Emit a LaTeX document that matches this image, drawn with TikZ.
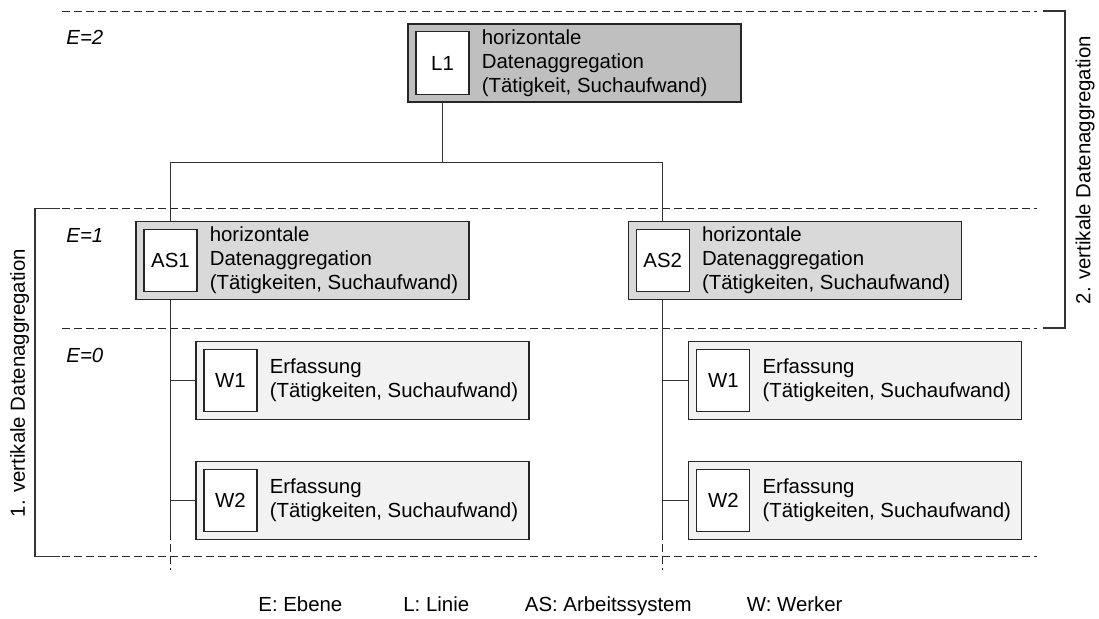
\documentclass[tikz,border=0pt]{standalone}
\usepackage{fontspec}
\setmainfont{Liberation Sans}
% one unit: outer box, white tag box, description text
\newcommand{\einheit}[5]{%
  \node[#3] (#1) at #2 {};
  \node[kennung] (#1k) at ([xshift=4pt]#1.west) {#4};
  \node[beschreibung] (#1t) at ([xshift=37pt]#1.west) {#5};
}

\begin{document}
\begin{tikzpicture}[
      x=0.5pt, y=-0.5pt,
      every node/.style={font=\fontsize{10.2pt}{12pt}\selectfont},
      einheit/.style={rectangle, draw=black!85, line width=0.6pt, inner sep=0pt, minimum width=166.5pt, minimum height=39pt},
      linie/.style={einheit, fill=black!25},
      system/.style={einheit, fill=black!15},
      werker/.style={einheit, fill=black!5, minimum height=38.8pt},
      kennung/.style={rectangle, draw=black!85, fill=white, line width=0.6pt, anchor=west, minimum width=26.5pt, minimum height=31.2pt, inner sep=0pt},
      beschreibung/.style={anchor=west, align=left, inner sep=0pt},
      ebene/.style={dash pattern=on 4pt off 2pt, line width=0.5pt, draw=black!85},
      verbindung/.style={line width=0.7pt, draw=black!80},
      stufe/.style={font=\fontsize{10.2pt}{12pt}\selectfont\itshape, anchor=west, inner sep=0pt},
      legende/.style={anchor=base west, inner sep=0pt}
      ]
      \useasboundingbox (0,0) rectangle (1099,618);

      % ebenen
      \draw[ebene] (62,11) -- (1037,11);
      \draw[ebene] (62,208.5) -- (1037,208.5);
      \draw[ebene] (62,328) -- (1037,328);
      \draw[ebene] (62,556.5) -- (1037,556.5);
      \node[stufe] (e2) at (66,37) {E=2};
      \node[stufe] (e1) at (66,235) {E=1};
      \node[stufe] (e0) at (66,355) {E=0};

      % einheiten
      \einheit{L1}{(574.5,63)}{linie}{L1}{horizontale\\Datenaggregation\\(Tätigkeit, Suchaufwand)}
      \einheit{AS1}{(302.5,260.5)}{system}{AS1}{horizontale\\Datenaggregation\\(Tätigkeiten, Suchaufwand)}
      \einheit{AS2}{(794.7,260.5)}{system}{AS2}{horizontale\\Datenaggregation\\(Tätigkeiten, Suchaufwand)}
      \einheit{W11}{(362.5,380.5)}{werker}{W1}{Erfassung\\(Tätigkeiten, Suchaufwand)}
      \einheit{W12}{(362.5,500.5)}{werker}{W2}{Erfassung\\(Tätigkeiten, Suchaufwand)}
      \einheit{W21}{(855.3,380.5)}{werker}{W1}{Erfassung\\(Tätigkeiten, Suchaufwand)}
      \einheit{W22}{(855.3,500.5)}{werker}{W2}{Erfassung\\(Tätigkeiten, Suchaufwand)}

      % verbindungen
      \coordinate (bus) at (0,162.3);
      \coordinate (ende) at (0,531.7);
      \coordinate (offen) at (0,570);
      \draw[verbindung] (L1.south -| L1k) -- (L1k |- bus);
      \draw[verbindung] (AS1.north -| AS1k) |- (AS2k |- bus) -- (AS2.north -| AS2k);
      \draw[verbindung] (AS1.south -| AS1k) -- (AS1k |- ende);
      \draw[verbindung] (AS2.south -| AS2k) -- (AS2k |- ende);
      \draw[ebene] (AS1k |- ende) -- (AS1k |- offen);
      \draw[ebene] (AS2k |- ende) -- (AS2k |- offen);
      \draw[verbindung] (AS1k |- W11) -- (W11.west);
      \draw[verbindung] (AS1k |- W12) -- (W12.west);
      \draw[verbindung] (AS2k |- W21) -- (W21.west);
      \draw[verbindung] (AS2k |- W22) -- (W22.west);

      % vertikale aggregation
      \draw[verbindung] (60,208.5) -- (35,208.5) -- (35,556.5) -- (60,556.5);
      \draw[verbindung] (1043,11) -- (1065,11) -- (1065,328) -- (1043,328);
      \node[rotate=90] (va1) at (19.5,383) {1. vertikale Datenaggregation};
      \node[rotate=90] (va2) at (1085,170) {2. vertikale Datenaggregation};

      % legende
      \node[legende] (leg1) at (258,611) {E: Ebene};
      \node[legende] (leg2) at (403,611) {L: Linie};
      \node[legende] (leg3) at (524.5,611) {AS: Arbeitssystem};
      \node[legende] (leg4) at (746.5,611) {W: Werker};
    \end{tikzpicture}
\end{document}
